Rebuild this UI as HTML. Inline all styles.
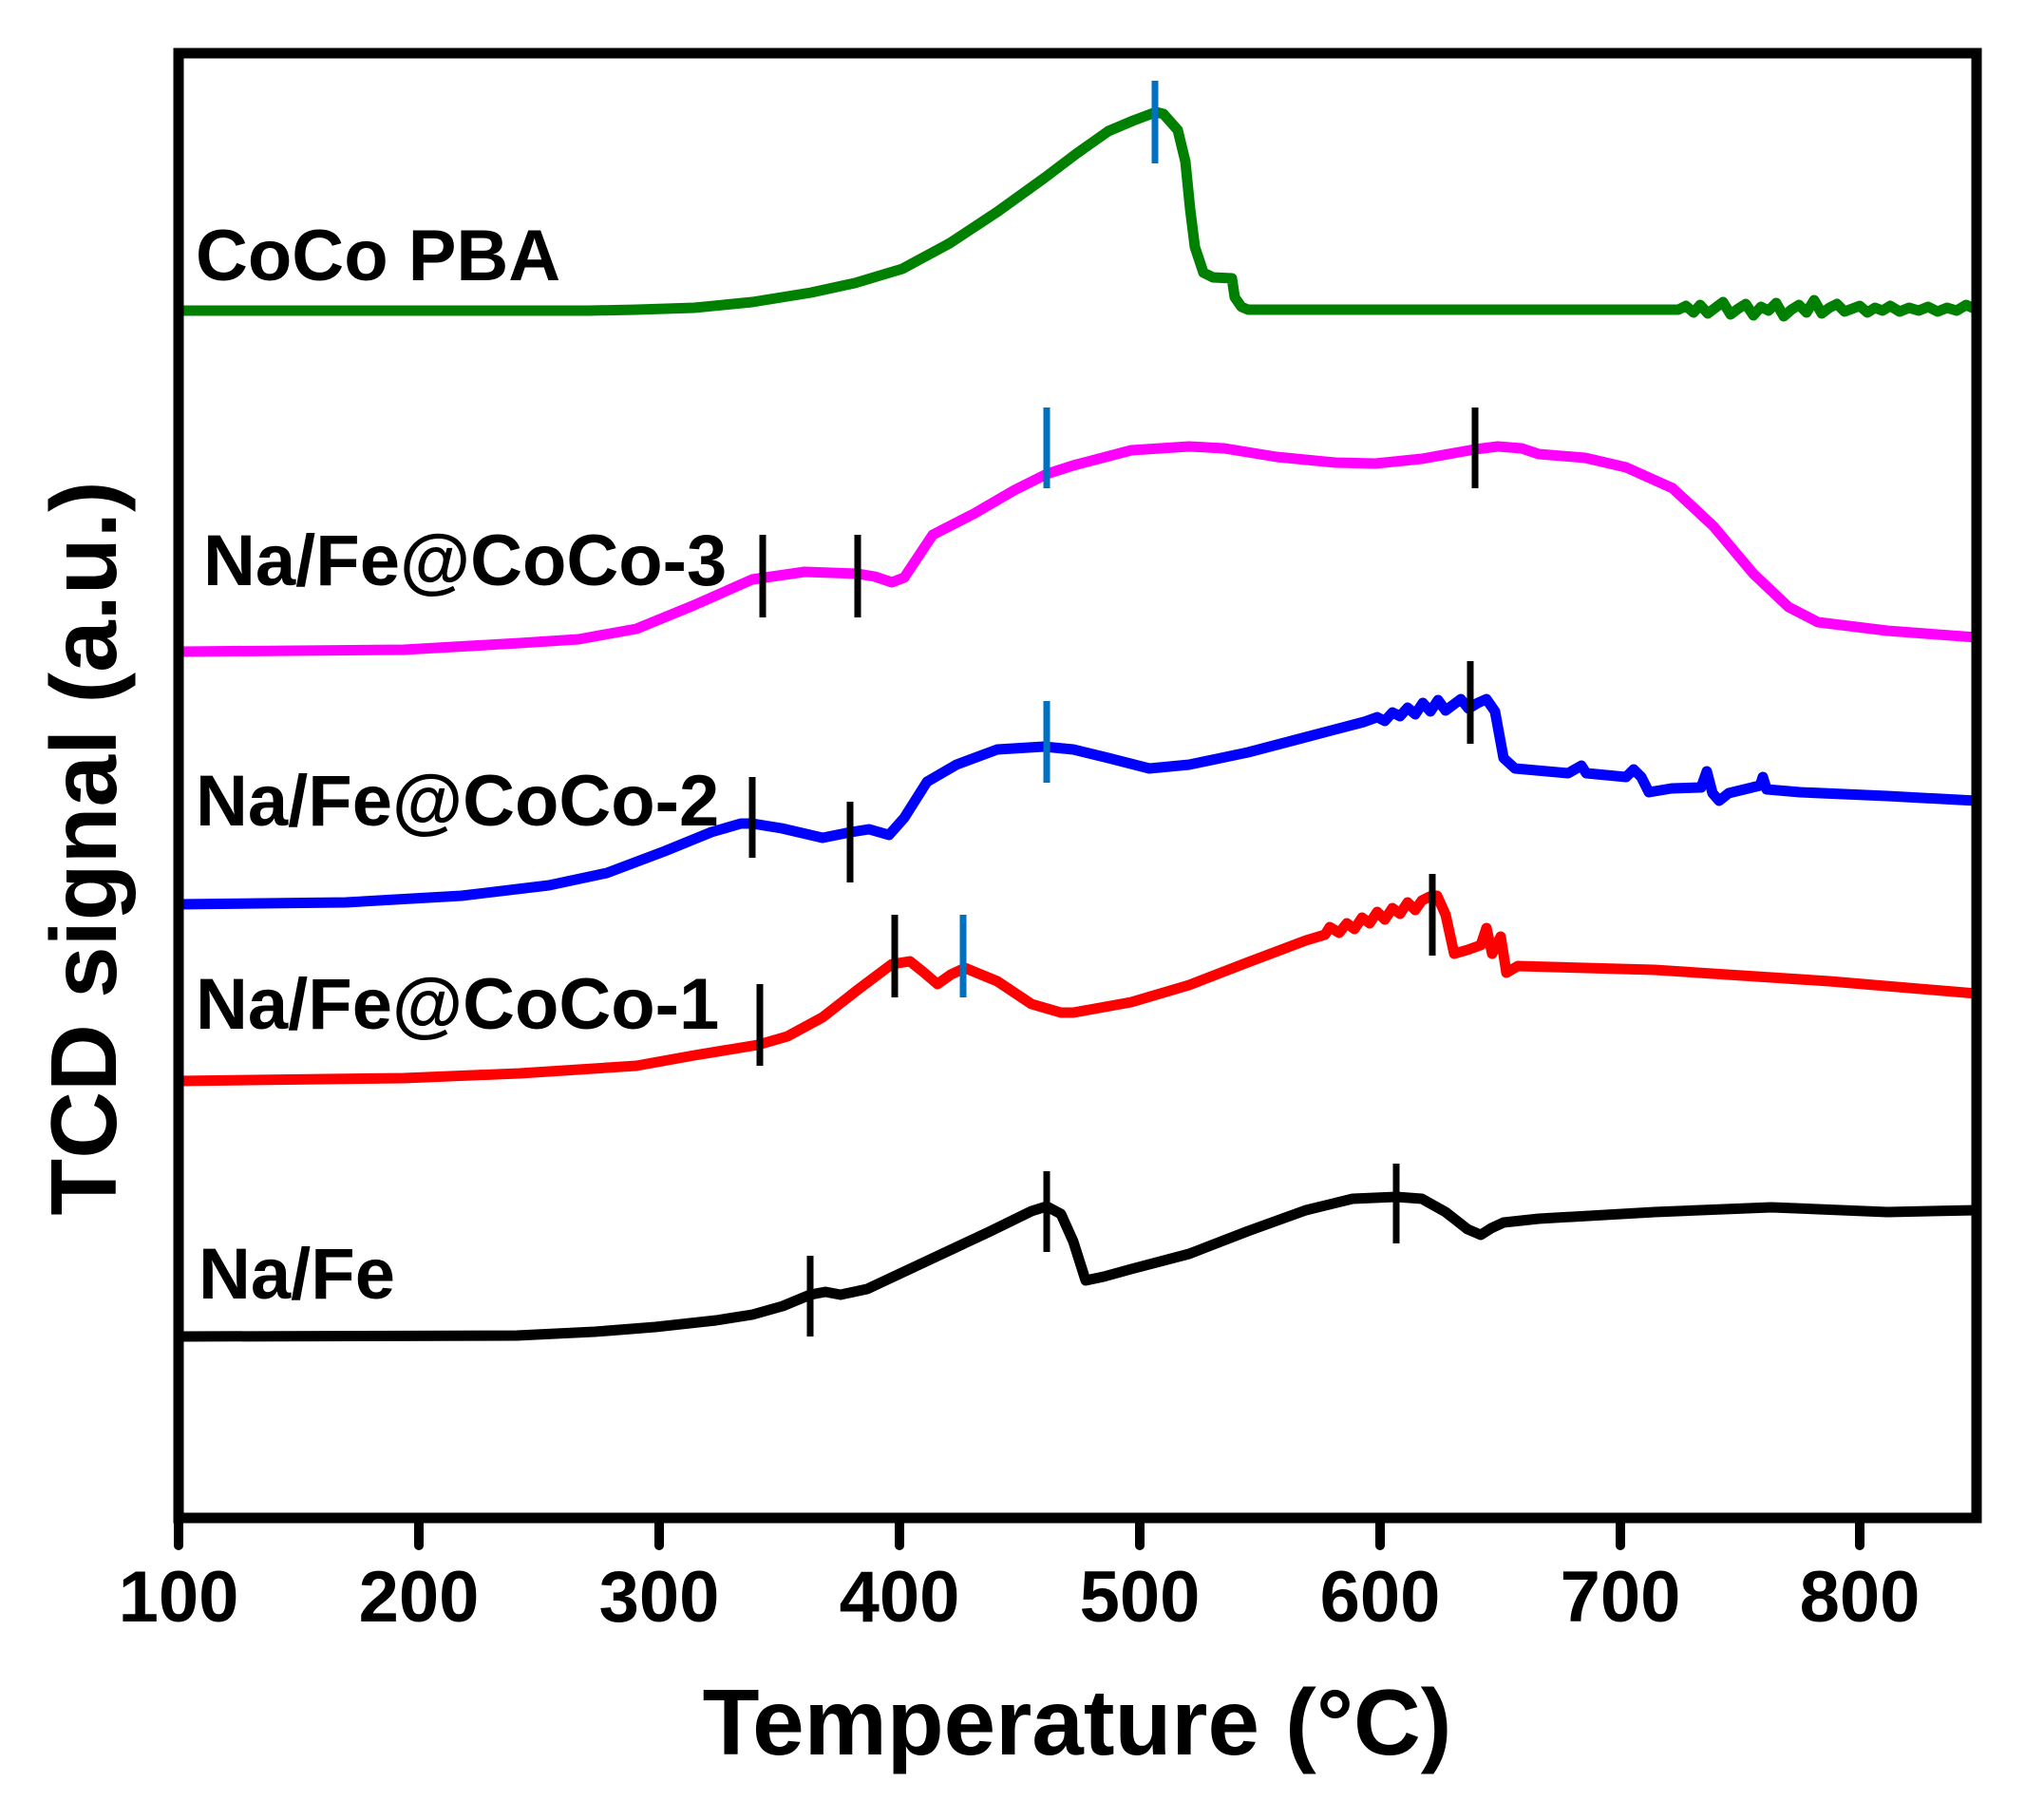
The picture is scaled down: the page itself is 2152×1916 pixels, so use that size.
<!DOCTYPE html>
<html>
<head>
<meta charset="utf-8">
<style>
html,body{margin:0;padding:0;background:#fff;}
svg{display:block;}
text{font-family:"Liberation Sans",Arial,sans-serif;font-weight:bold;fill:#000;}
</style>
</head>
<body>
<svg width="2152" height="1916" viewBox="0 0 2152 1916" xmlns="http://www.w3.org/2000/svg">
<rect x="0" y="0" width="2152" height="1916" fill="#fff"/>

<g fill="none" stroke-width="11" stroke-linejoin="round" stroke-linecap="round">
<!-- CoCo PBA -->
<path stroke="#008000" d="M188,327 L620,327 L670,326 L731,324 L792,318 L854,308 L900,298 L950,283 L1000,256 L1050,223 L1100,187 L1133,162 L1167,138 L1193,127 L1217,118 L1225,120 L1240,137 L1248,170 L1253,220 L1258,260 L1267,287 L1277,292 L1297,293 L1300,313 L1307,323 L1314,326 L1767,326 L1775,322 L1783,329 L1790,321 L1798,330 L1806,324 L1814,318 L1822,331 L1830,325 L1838,320 L1846,332 L1854,323 L1862,327 L1870,319 L1878,333 L1886,326 L1894,321 L1902,329 L1910,316 L1918,330 L1926,324 L1934,320 L1942,328 L1950,325 L1958,322 L1966,329 L1974,324 L1982,327 L1990,322 L2000,328 L2010,324 L2020,327 L2030,323 L2040,328 L2050,324 L2060,327 L2070,321 L2081,326"/>
<!-- Na/Fe@CoCo-3 -->
<path stroke="#ff00ff" d="M188,686 L425,684 L547,677 L609,673 L670,662 L731,637 L792,610 L847,602 L903,604 L921,607 L939,613 L952,608 L982,563 L1025,541 L1068,516 L1102,499 L1130,490 L1191,474 L1252,470 L1289,472 L1344,481 L1406,487 L1448,488 L1497,483 L1553,473 L1577,470 L1602,472 L1620,478 L1669,482 L1712,492 L1761,514 L1804,554 L1846,604 L1883,639 L1914,655 L1987,664 L2081,671"/>
<!-- Na/Fe@CoCo-2 -->
<path stroke="#0000ff" d="M188,952 L364,950 L486,943 L578,932 L639,919 L700,896 L749,876 L780,867 L792,867 L823,872 L866,882 L896,876 L915,873 L936,879 L952,861 L976,823 L1007,805 L1050,789 L1099,786 L1130,789 L1167,798 L1210,809 L1252,805 L1314,792 L1375,776 L1436,760 L1450,755 L1458,759 L1466,750 L1474,754 L1482,745 L1490,752 L1498,740 L1506,749 L1514,737 L1522,748 L1530,742 L1538,736 L1546,746 L1556,740 L1565,736 L1574,749 L1583,798 L1595,809 L1651,814 L1665,806 L1670,814 L1712,818 L1720,810 L1728,818 L1736,834 L1760,830 L1791,829 L1797,812 L1803,835 L1810,843 L1820,835 L1853,827 L1856,818 L1860,831 L1895,834 L1987,838 L2081,843"/>
<!-- Na/Fe@CoCo-1 -->
<path stroke="#ff0000" d="M188,1138 L425,1135 L547,1130 L670,1122 L731,1111 L798,1100 L829,1091 L866,1071 L903,1042 L939,1015 L958,1012 L973,1024 L987,1036 L1001,1026 L1016,1019 L1050,1033 L1086,1057 L1117,1066 L1130,1066 L1191,1055 L1252,1037 L1314,1013 L1375,990 L1395,984 L1400,976 L1410,982 L1418,972 L1426,978 L1434,966 L1442,972 L1450,960 L1458,968 L1466,956 L1474,962 L1482,950 L1490,958 L1497,948 L1505,944 L1513,943 L1522,963 L1531,1004 L1545,1000 L1559,995 L1565,977 L1571,1004 L1580,986 L1586,1024 L1598,1017 L1742,1021 L1926,1033 L2081,1046"/>
<!-- Na/Fe -->
<path stroke="#000000" d="M188,1407 L544,1406 L626,1402 L690,1397 L754,1390 L792,1384 L824,1375 L853,1363 L869,1360 L885,1363 L913,1357 L977,1327 L1041,1297 L1086,1275 L1102,1270 L1117,1278 L1130,1307 L1143,1348 L1162,1344 L1191,1336 L1252,1320 L1314,1296 L1375,1274 L1424,1262 L1470,1260 L1497,1262 L1522,1276 L1545,1294 L1559,1300 L1570,1293 L1583,1287 L1620,1283 L1742,1276 L1865,1271 L1987,1276 L2081,1274"/>
</g>

<!-- peak markers -->
<g stroke-width="7" fill="none">
<line x1="1216" y1="85" x2="1216" y2="172" stroke="#0070c0"/>
<line x1="803" y1="563" x2="803" y2="650" stroke="#000"/>
<line x1="903" y1="563" x2="903" y2="650" stroke="#000"/>
<line x1="1102" y1="429" x2="1102" y2="514" stroke="#0070c0"/>
<line x1="1553" y1="429" x2="1553" y2="514" stroke="#000"/>
<line x1="792" y1="818" x2="792" y2="903" stroke="#000"/>
<line x1="895" y1="844" x2="895" y2="929" stroke="#000"/>
<line x1="1102" y1="738" x2="1102" y2="824" stroke="#0070c0"/>
<line x1="1548" y1="696" x2="1548" y2="783" stroke="#000"/>
<line x1="800" y1="1036" x2="800" y2="1122" stroke="#000"/>
<line x1="942" y1="963" x2="942" y2="1050" stroke="#000"/>
<line x1="1014" y1="963" x2="1014" y2="1050" stroke="#0070c0"/>
<line x1="1508" y1="920" x2="1508" y2="1006" stroke="#000"/>
<line x1="853" y1="1322" x2="853" y2="1407" stroke="#000"/>
<line x1="1102" y1="1233" x2="1102" y2="1318" stroke="#000"/>
<line x1="1470" y1="1225" x2="1470" y2="1309" stroke="#000"/>
</g>

<!-- axes frame -->
<rect x="188" y="56" width="1893" height="1542" fill="none" stroke="#000" stroke-width="11"/>
<g stroke="#000" stroke-width="10" stroke-linecap="round">
<line x1="188" y1="1598" x2="188" y2="1627"/>
<line x1="441" y1="1598" x2="441" y2="1627"/>
<line x1="694" y1="1598" x2="694" y2="1627"/>
<line x1="947" y1="1598" x2="947" y2="1627"/>
<line x1="1200" y1="1598" x2="1200" y2="1627"/>
<line x1="1453" y1="1598" x2="1453" y2="1627"/>
<line x1="1706" y1="1598" x2="1706" y2="1627"/>
<line x1="1958" y1="1598" x2="1958" y2="1627"/>
</g>

<!-- tick labels -->
<g font-size="76" text-anchor="middle">
<text x="188" y="1707">100</text>
<text x="441" y="1707">200</text>
<text x="694" y="1707">300</text>
<text x="947" y="1707">400</text>
<text x="1200" y="1707">500</text>
<text x="1453" y="1707">600</text>
<text x="1706" y="1707">700</text>
<text x="1958" y="1707">800</text>
</g>

<!-- axis titles -->
<text x="1134" y="1847" font-size="98" text-anchor="middle">Temperature (°C)</text>
<text transform="translate(122,893) rotate(-90)" font-size="98" text-anchor="middle">TCD signal (a.u.)</text>

<!-- series labels -->
<g font-size="76">
<text x="206" y="295">CoCo PBA</text>
<text x="214" y="616">Na/Fe@CoCo-3</text>
<text x="206" y="869">Na/Fe@CoCo-2</text>
<text x="206" y="1083">Na/Fe@CoCo-1</text>
<text x="209" y="1367">Na/Fe</text>
</g>
</svg>
</body>
</html>
